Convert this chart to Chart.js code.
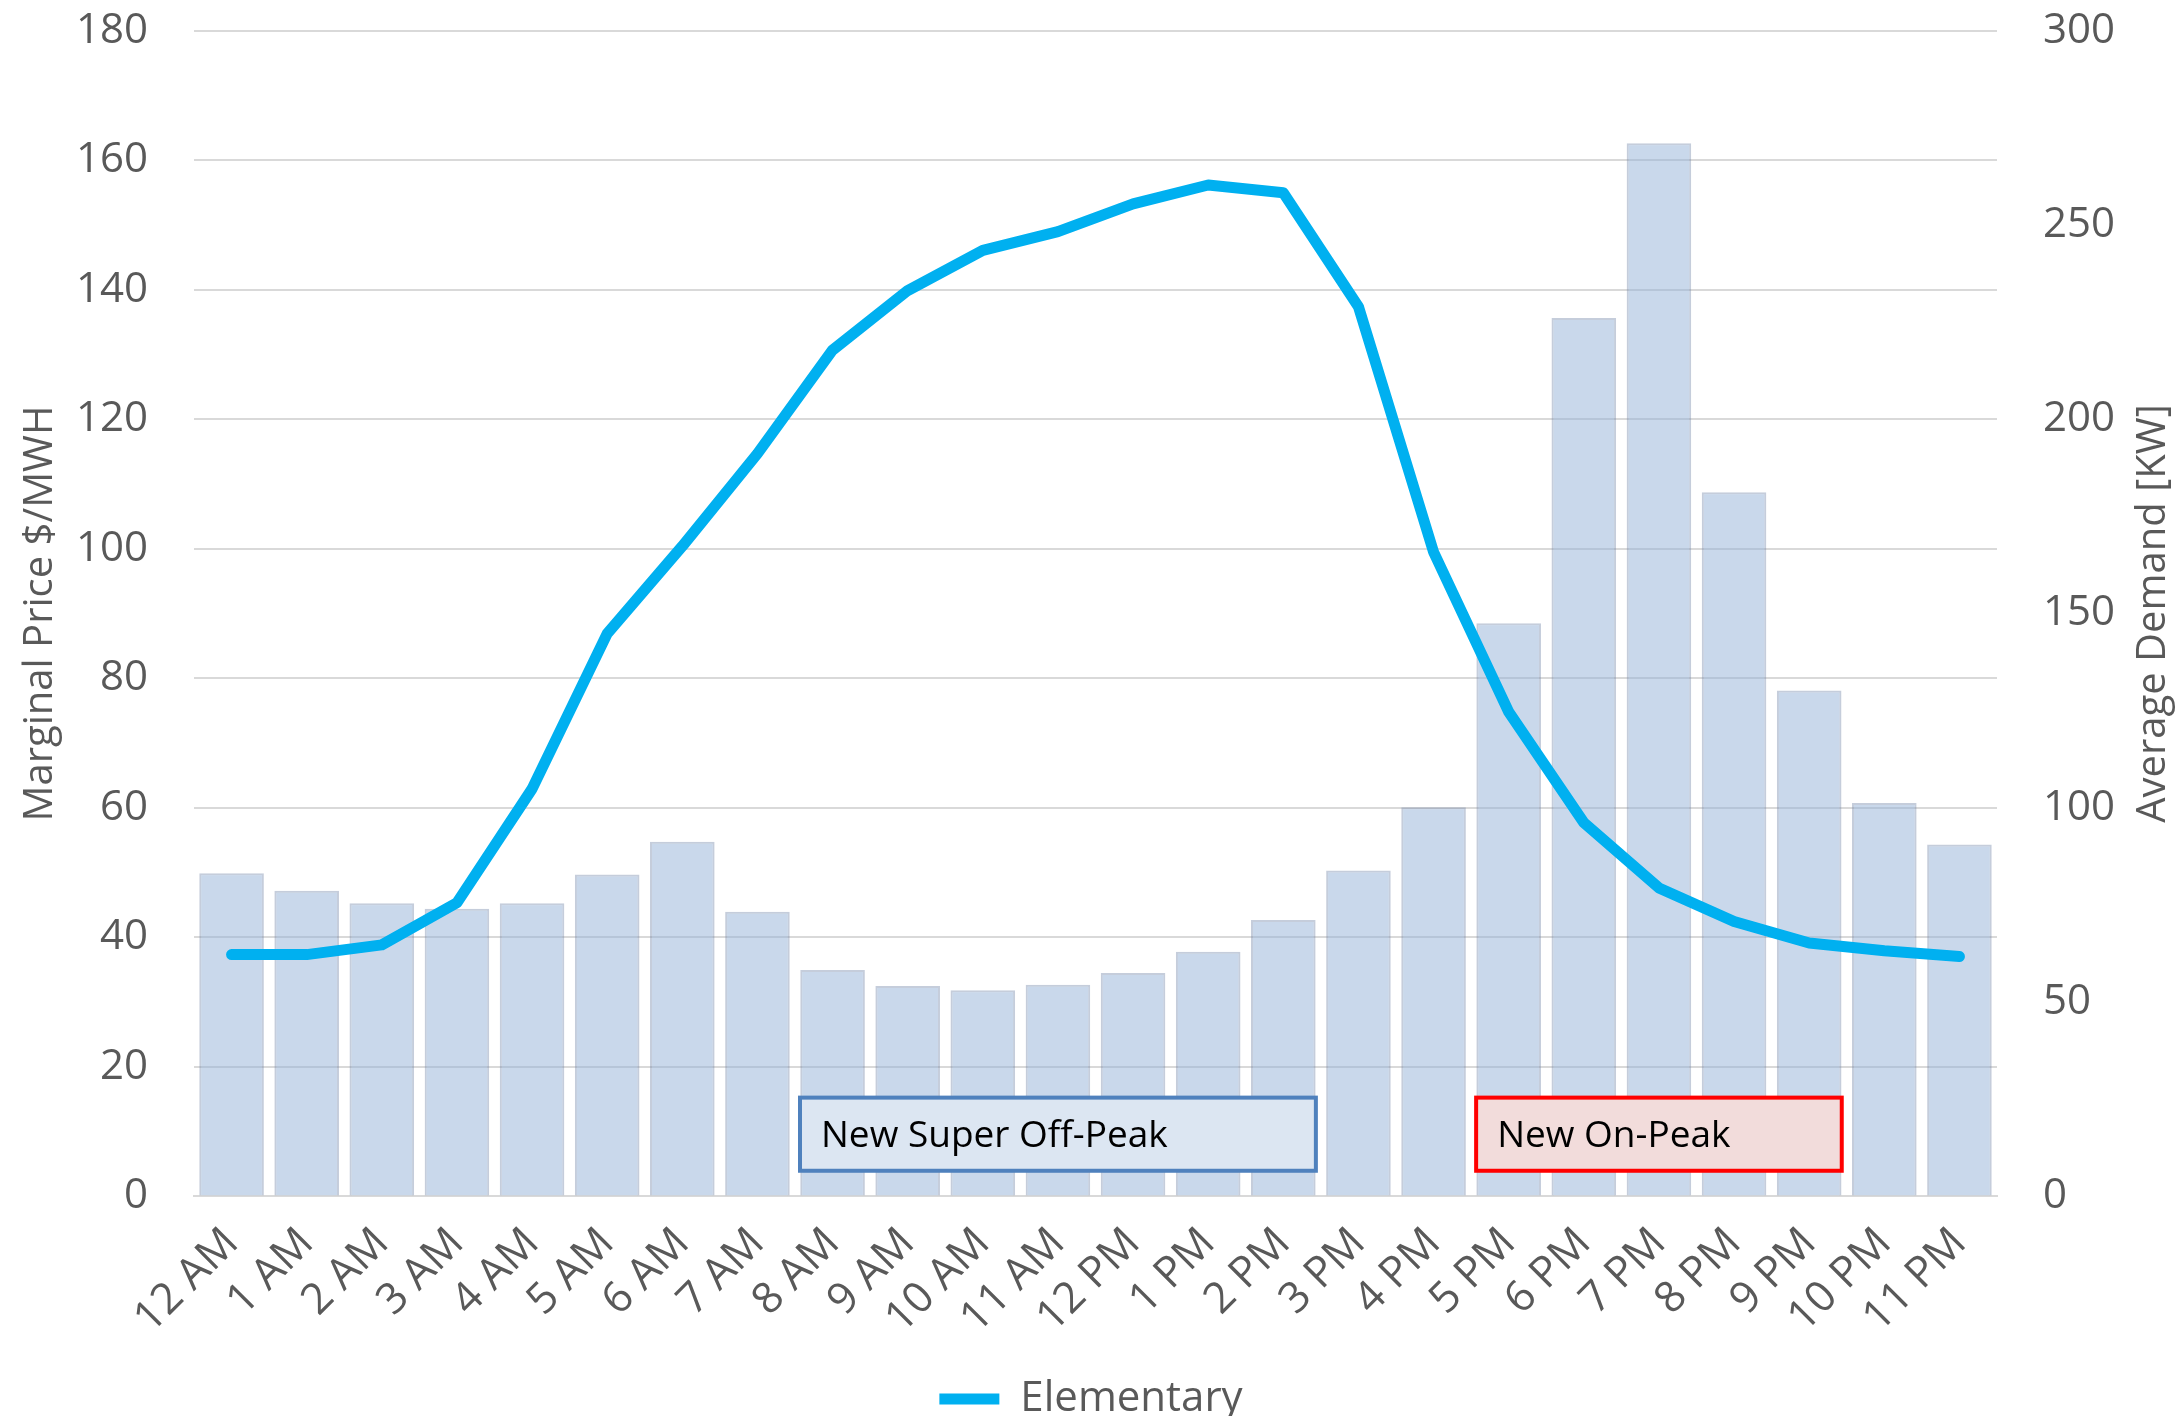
<!DOCTYPE html>
<html>
<head>
<meta charset="utf-8">
<script src="https://cdn.jsdelivr.net/npm/chart.js@4.4.1/dist/chart.umd.min.js"></script>
<style>
  html, body { margin: 0; padding: 0; background: #fff; }
  #wrap { width: 2182px; height: 1416px; }
</style>
</head>
<body>
<div id="wrap"><canvas id="chart" width="2182" height="1416"></canvas></div>
<script>
// hours of the day
const hours = ['12 AM', '1 AM', '2 AM', '3 AM', '4 AM', '5 AM', '6 AM', '7 AM', '8 AM', '9 AM', '10 AM', '11 AM',
               '12 PM', '1 PM', '2 PM', '3 PM', '4 PM', '5 PM', '6 PM', '7 PM', '8 PM', '9 PM', '10 PM', '11 PM'];

// marginal price ($/MWH), left axis
const elementary = [37.3, 37.3, 38.8, 45.3, 62.9, 86.9, 100.4, 114.7, 130.7, 139.9, 146.1, 149.0,
                    153.3, 156.2, 155.0, 137.4, 99.5, 74.8, 57.7, 47.6, 42.4, 39.1, 37.9, 37.0];

// average demand (KW), right axis
const demand = [83.1, 78.6, 75.4, 74.0, 75.4, 82.8, 91.2, 73.2, 58.2, 54.1, 53.0, 54.4,
                57.4, 62.9, 71.1, 83.8, 100.1, 147.5, 226.1, 271.1, 181.2, 130.2, 101.2, 90.5];

// rate periods: first hour, last hour, label
const periods = [
    { from: '8 AM', to: '2 PM', text: 'New Super Off-Peak', stroke: '#4f81bd', fill: '#dce6f2' },
    { from: '5 PM', to: '9 PM', text: 'New On-Peak', stroke: '#ff0000', fill: '#f2dcdb' }
];

const FONT = "'Open Sans', 'DejaVu Sans', sans-serif";
const GREY = '#595959';

// draws the rate period boxes and the right axis title
const extras = {
    id: 'extras',
    afterDatasetsDraw(chart) {
        const ctx = chart.ctx;
        const x = chart.scales.x;
        const y = chart.scales.y;
        const half = (x.getPixelForValue(1) - x.getPixelForValue(0)) / 2;
        const top = y.getPixelForValue(15.2);
        const bottom = y.getPixelForValue(3.9);
        ctx.save();
        periods.forEach(p => {
            const left = x.getPixelForValue(hours.indexOf(p.from)) - half + 5;
            const right = x.getPixelForValue(hours.indexOf(p.to)) + half - 5;
            ctx.fillStyle = p.fill;
            ctx.fillRect(left, top, right - left, bottom - top);
            ctx.lineWidth = 4;
            ctx.strokeStyle = p.stroke;
            ctx.strokeRect(left, top, right - left, bottom - top);
            ctx.fillStyle = '#000';
            ctx.font = '37px ' + FONT;
            ctx.textAlign = 'left';
            ctx.textBaseline = 'middle';
            ctx.fillText(p.text, left + 21, (top + bottom) / 2 + 2);
        });
        ctx.restore();
    },
    afterDraw(chart) {
        const ctx = chart.ctx;
        const area = chart.chartArea;
        ctx.save();
        ctx.translate(2154, (area.top + area.bottom) / 2);
        ctx.rotate(-Math.PI / 2);
        ctx.fillStyle = GREY;
        ctx.font = '40px ' + FONT;
        ctx.textAlign = 'center';
        ctx.textBaseline = 'middle';
        ctx.fillText('Average Demand [KW]', 0, 0);
        ctx.restore();
    }
};

const ctx = document.getElementById('chart').getContext('2d');
const chart = new Chart(ctx, {
    type: 'bar',
    data: {
        labels: hours,
        datasets: [{
            type: 'line',
            label: 'Elementary',
            data: elementary,
            yAxisID: 'y',
            borderColor: '#00b0f0',
            backgroundColor: '#00b0f0',
            borderWidth: 11,
            borderCapStyle: 'round',
            borderJoinStyle: 'round',
            pointRadius: 0,
            tension: 0,
            order: 0
        }, {
            label: 'Average Demand',
            data: demand,
            yAxisID: 'y1',
            backgroundColor: 'rgba(147, 177, 215, 0.5)',
            borderColor: 'rgba(110, 130, 165, 0.4)',
            borderWidth: 2,
            borderSkipped: 'bottom',
            categoryPercentage: 1,
            barPercentage: 0.86,
            order: 1
        }]
    },
    options: {
        responsive: false,
        animation: false,
        layout: { padding: { top: 31, left: 0, right: 0, bottom: -14 } },
        plugins: {
            legend: {
                position: 'bottom',
                labels: {
                    filter: item => item.text === 'Elementary',
                    usePointStyle: true,
                    pointStyle: 'line',
                    pointStyleWidth: 60,
                    boxHeight: 42,
                    color: GREY,
                    font: { family: FONT, size: 42 },
                    padding: 0
                }
            },
            tooltip: { enabled: false }
        },
        scales: {
            x: {
                grid: { display: false },
                border: { display: true, color: '#d9d9d9', width: 2 },
                ticks: {
                    autoSkip: false,
                    maxRotation: 45,
                    minRotation: 45,
                    padding: 14,
                    color: GREY,
                    font: { family: FONT, size: 43 }
                },
                afterFit: s => { s.height = 182; }
            },
            y: {
                position: 'left',
                min: 0,
                max: 180,
                ticks: {
                    stepSize: 20,
                    padding: 46,
                    color: GREY,
                    font: { family: FONT, size: 42 }
                },
                grid: { color: '#d9d9d9', lineWidth: 2, drawTicks: false },
                border: { display: false },
                title: {
                    display: true,
                    text: 'Marginal Price $/MWH',
                    color: GREY,
                    font: { family: FONT, size: 40 },
                    padding: { top: 17, bottom: 0 }
                },
                afterFit: s => { s.width = 194; s.paddingTop = 25; s.paddingBottom = 25; }
            },
            y1: {
                position: 'right',
                min: 0,
                max: 300,
                ticks: {
                    stepSize: 50,
                    padding: 46,
                    color: GREY,
                    font: { family: FONT, size: 42 }
                },
                grid: { drawOnChartArea: false, drawTicks: false },
                border: { display: false },
                afterFit: s => { s.width = 185; s.paddingTop = 25; s.paddingBottom = 25; }
            }
        }
    },
    plugins: [extras]
});
</script>
</body>
</html>
